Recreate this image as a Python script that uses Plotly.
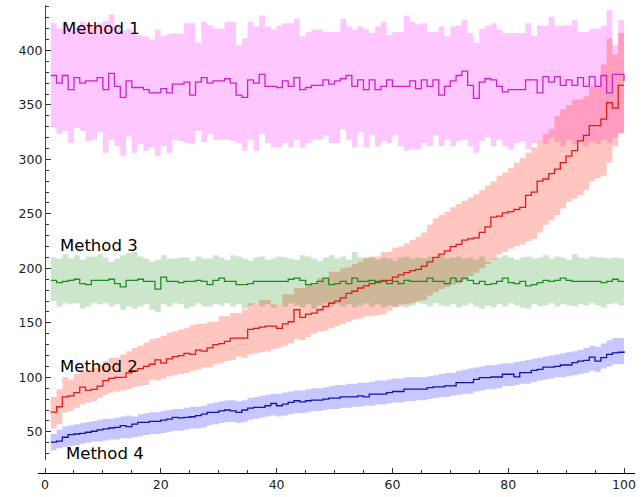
import plotly.graph_objects as go

x = list(range(1, 101))

# Method 1 (magenta)
m1 = [377, 370, 377, 364, 375, 370, 372, 372, 375, 364,
      379, 367, 357, 372, 366, 366, 364, 361, 361, 365,
      361, 369, 369, 371, 359, 371, 375, 370, 372, 372,
      374, 370, 359, 357, 373, 370, 378, 367, 367, 366,
      372, 367, 375, 364, 366, 368, 368, 373, 369, 372,
      374, 377, 367, 373, 364, 373, 364, 367, 373, 367,
      367, 367, 372, 365, 373, 367, 373, 359, 367, 372,
      377, 381, 368, 356, 371, 374, 373, 367, 362, 364,
      364, 364, 373, 373, 361, 376, 371, 376, 368, 373,
      368, 375, 367, 376, 367, 377, 361, 378, 378, 372]
m1_hi = [425, 420, 424, 418, 421, 426, 424, 423, 425, 427,
         433, 423, 418, 420, 416, 414, 413, 410, 419, 413,
         415, 416, 415, 425, 425, 407, 426, 423, 420, 420,
         426, 426, 405, 411, 426, 422, 432, 422, 419, 423,
         425, 425, 429, 413, 417, 419, 419, 417, 417, 417,
         429, 422, 419, 422, 420, 416, 422, 426, 414, 417,
         417, 432, 426, 424, 425, 417, 417, 422, 413, 422,
         423, 428, 416, 407, 420, 423, 425, 419, 416, 416,
         416, 416, 425, 413, 423, 423, 431, 423, 423, 423,
         428, 417, 417, 420, 420, 423, 437, 405, 428, 428]
m1_lo = [329, 323, 326, 315, 329, 326, 317, 318, 325, 306,
         318, 312, 303, 321, 306, 314, 308, 311, 303, 312,
         306, 318, 317, 315, 314, 326, 316, 323, 318, 318,
         318, 317, 315, 308, 318, 308, 323, 315, 311, 311,
         315, 311, 318, 311, 315, 318, 318, 322, 315, 315,
         328, 318, 311, 325, 311, 322, 312, 317, 315, 322,
         312, 308, 309, 309, 315, 312, 322, 312, 318, 312,
         317, 318, 312, 306, 317, 320, 312, 318, 312, 309,
         315, 317, 309, 315, 318, 314, 320, 316, 312, 318,
         314, 317, 312, 316, 314, 318, 315, 320, 324, 324]

# Method 2 (red)
m2 = [68, 73, 82, 83, 86, 91, 88, 89, 92, 97,
      99, 100, 100, 104, 106, 108, 110, 112, 116, 113,
      117, 119, 120, 122, 121, 125, 124, 127, 130, 131,
      133, 136, 136, 136, 144, 145, 146, 147, 147, 145,
      149, 151, 162, 155, 158, 159, 162, 165, 168, 170,
      173, 177, 179, 182, 184, 186, 188, 189, 189, 192,
      194, 196, 198, 199, 202, 206, 210, 213, 216, 220,
      222, 226, 227, 228, 233, 238, 247, 248, 251, 252,
      254, 256, 267, 270, 280, 282, 287, 291, 297, 303,
      308, 317, 322, 331, 331, 337, 352, 347, 368, 368]
m2_hi = [82, 89, 100, 98, 103, 106, 107, 109, 112, 115,
         118, 118, 121, 124, 127, 129, 132, 135, 136, 138,
         141, 142, 144, 145, 148, 149, 149, 151, 151, 156,
         156, 159, 159, 162, 168, 168, 171, 171, 167, 166,
         176, 176, 182, 182, 185, 185, 191, 191, 197, 197,
         200, 201, 204, 206, 210, 210, 211, 215, 215, 219,
         220, 223, 226, 229, 233, 240, 246, 249, 252, 256,
         259, 262, 265, 268, 272, 276, 280, 285, 288, 292,
         297, 301, 306, 311, 318, 323, 328, 340, 346, 350,
         355, 355, 358, 367, 367, 387, 411, 396, 416, 416]
m2_lo = [53, 57, 68, 69, 72, 75, 77, 78, 81, 84,
         86, 87, 88, 89, 91, 92, 93, 98, 97, 99,
         101, 102, 103, 104, 106, 107, 109, 109, 112, 113,
         115, 116, 119, 118, 121, 122, 123, 124, 126, 127,
         129, 131, 135, 134, 137, 140, 142, 143, 145, 147,
         149, 151, 153, 154, 156, 156, 157, 158, 161, 164,
         165, 167, 168, 170, 171, 175, 178, 181, 183, 185,
         186, 189, 193, 196, 200, 204, 208, 213, 215, 218,
         220, 222, 225, 227, 233, 240, 244, 249, 255, 261,
         264, 267, 272, 280, 283, 285, 297, 312, 324, 324]

# Method 3 (green)
m3 = [189, 187, 188, 189, 190, 186, 185, 189, 189, 189,
      190, 186, 183, 189, 189, 190, 188, 188, 181, 192,
      188, 188, 187, 188, 188, 189, 188, 185, 189, 191,
      188, 188, 185, 185, 186, 188, 188, 188, 188, 188,
      188, 190, 191, 189, 185, 186, 188, 191, 185, 186,
      188, 186, 191, 188, 188, 189, 187, 188, 186, 188,
      186, 189, 188, 188, 188, 191, 188, 188, 186, 191,
      188, 191, 189, 186, 188, 185, 186, 188, 191, 187,
      186, 188, 184, 185, 187, 189, 188, 189, 191, 189,
      188, 188, 188, 188, 188, 187, 188, 190, 188, 188]
m3_hi = [210, 209, 213, 209, 212, 208, 211, 211, 213, 210,
         206, 209, 212, 214, 215, 211, 209, 206, 208, 212,
         209, 209, 210, 210, 207, 211, 209, 209, 212, 210,
         208, 212, 211, 209, 207, 210, 211, 208, 209, 211,
         210, 209, 208, 212, 211, 209, 207, 210, 212, 209,
         211, 208, 215, 210, 209, 211, 208, 210, 209, 207,
         210, 211, 209, 210, 209, 211, 210, 212, 209, 210,
         211, 209, 210, 208, 211, 206, 209, 210, 212, 210,
         208, 210, 211, 209, 210, 212, 209, 211, 210, 208,
         213, 210, 209, 211, 210, 210, 209, 210, 209, 209]
m3_lo = [170, 165, 168, 167, 168, 163, 165, 168, 167, 168,
         165, 167, 162, 165, 163, 165, 167, 162, 160, 167,
         165, 168, 167, 163, 165, 168, 165, 165, 167, 166,
         168, 165, 167, 163, 166, 168, 165, 167, 164, 166,
         165, 168, 166, 164, 167, 163, 166, 168, 165, 167,
         165, 167, 164, 166, 168, 165, 167, 164, 166, 165,
         167, 164, 166, 168, 167, 165, 168, 166, 165, 167,
         164, 166, 168, 165, 163, 166, 164, 167, 165, 168,
         166, 164, 163, 167, 165, 166, 168, 165, 167, 166,
         165, 167, 166, 168, 166, 164, 167, 168, 166, 166]

# Method 4 (blue)
m4 = [40.5, 41.4, 45, 47.5, 48, 48.5, 49.6, 50.5, 51.7, 52.6,
      53.5, 54, 55.7, 54.7, 57, 58.7, 58.7, 59.6, 59.6, 60.8,
      61.7, 63.3, 62.7, 63.3, 63.8, 64.8, 66.3, 67.8, 67.8, 69.3,
      70, 69.3, 67.8, 70, 71.8, 72.4, 72.4, 73.9, 76, 73.9,
      75.4, 77, 78.5, 77.5, 78.5, 79, 79, 80, 80.9, 80.9,
      82.1, 82.1, 82.1, 83, 82.1, 84.5, 84.5, 84.5, 86, 87,
      87, 89.1, 89.1, 89.1, 89.1, 90.6, 91.2, 91.2, 92.1, 92.1,
      95.2, 95.2, 95.2, 98.2, 99.7, 99.7, 100.3, 100.3, 102.8, 102.8,
      100.5, 104.3, 104.3, 106.4, 107.3, 109.4, 109.4, 110, 111.3, 111.3,
      113.4, 114.9, 115.5, 118.6, 114.9, 118, 121, 122.5, 123, 124]
m4_hi = [48, 52, 55, 56, 57, 58, 59, 60, 61, 62,
         62, 63, 64, 65, 64, 66, 67, 68, 68, 69,
         70, 71, 71, 72, 73, 73, 74, 76, 77, 78,
         79, 79, 78, 79, 81, 82, 83, 84, 85, 85,
         86, 87, 88, 88, 89, 90, 90, 91, 92, 93,
         93, 94, 94, 95, 95, 96, 97, 97, 98, 99,
         99, 100, 100, 100, 100, 101, 102, 103, 104, 104,
         106, 107, 108, 109, 110, 111, 111, 112, 113, 113,
         114, 115, 116, 117, 118, 119, 120, 121, 122, 123,
         124, 125, 127, 129, 128, 131, 134, 136, 136, 136]
m4_lo = [33, 35, 36, 37, 38, 39, 40, 41, 41, 42,
         43, 43, 44, 44, 45, 46, 47, 48, 48, 49,
         50, 51, 51, 52, 53, 53, 54, 56, 57, 58,
         59, 59, 58, 59, 61, 62, 63, 64, 65, 64,
         65, 66, 67, 67, 68, 69, 69, 70, 71, 71,
         72, 72, 73, 73, 74, 74, 75, 75, 76, 77,
         77, 78, 78, 79, 79, 80, 81, 82, 82, 83,
         84, 85, 85, 87, 88, 89, 89, 90, 92, 92,
         93, 94, 94, 96, 97, 98, 99, 100, 100, 101,
         102, 103, 104, 106, 105, 108, 110, 112, 112, 112]

series = [
    ("Method 1", m1, m1_lo, m1_hi, "#cc22cc", "rgba(255,0,255,0.22)"),
    ("Method 2", m2, m2_lo, m2_hi, "#dd1c1c", "rgba(255,40,20,0.27)"),
    ("Method 3", m3, m3_lo, m3_hi, "#228b22", "rgba(0,128,0,0.2)"),
    ("Method 4", m4, m4_lo, m4_hi, "#1414a8", "rgba(20,20,255,0.24)"),
]

labels = ["Method 1", "Method 3", "Method 2", "Method 4"]
label_x = [2.6, 2.3, 2.3, 3.3]
label_y = [419.8, 221.4, 109.5, 29.8]

fig = go.Figure()
for name, mean, lo, hi, lc, fc in series:
    fig.add_trace(go.Scatter(x=x, y=lo, mode="lines", line=dict(width=0, shape="hv"),
                             showlegend=False, hoverinfo="skip"))
    fig.add_trace(go.Scatter(x=x, y=hi, mode="lines", line=dict(width=0, shape="hv"),
                             fill="tonexty", fillcolor=fc, showlegend=False, hoverinfo="skip"))
for name, mean, lo, hi, lc, fc in series:
    fig.add_trace(go.Scatter(x=x, y=mean, mode="lines", name=name,
                             line=dict(color=lc, width=1.3, shape="hv"), showlegend=False))

for t, lx, ly in zip(labels, label_x, label_y):
    fig.add_annotation(x=lx, y=ly, text=t, showarrow=False, xanchor="left", yanchor="middle",
                       font=dict(family="DejaVu Sans", size=16.5, color="black"))

fig.update_layout(
    width=644, height=497,
    margin=dict(l=38, r=9, t=5, b=21),
    plot_bgcolor="white", paper_bgcolor="white",
    font=dict(family="DejaVu Sans", size=12.5, color="#222"),
    xaxis=dict(range=[-1.21, 101.9], anchor="free", position=0,
               showgrid=False, zeroline=False, showline=True, linecolor="black", linewidth=1.2,
               ticks="inside", ticklen=5, tickcolor="#333", tickwidth=1,
               tickmode="linear", tick0=0, dtick=20,
               minor=dict(ticks="inside", ticklen=3, dtick=5, tickcolor="#333", showgrid=False)),
    yaxis=dict(range=[24.05, 441.7], domain=[0.0276, 1], anchor="free", position=0.01173,
               showgrid=False, zeroline=False, showline=True, linecolor="#444", linewidth=1.2,
               ticks="inside", ticklen=5, tickcolor="#333", tickwidth=1,
               tickmode="linear", tick0=50, dtick=50,
               minor=dict(ticks="inside", ticklen=3, dtick=10, tickcolor="#333", showgrid=False)),
)

fig.write_html("out.html")
